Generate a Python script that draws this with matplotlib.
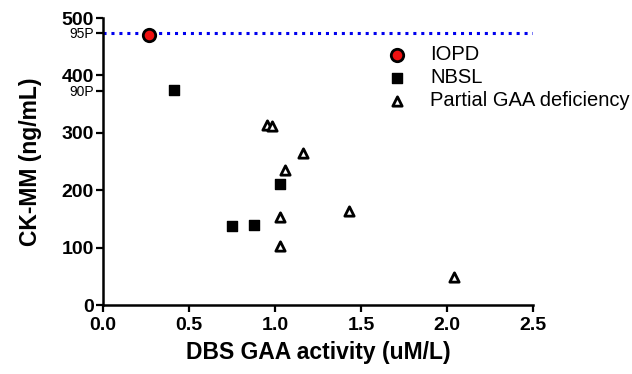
import matplotlib
matplotlib.use("Agg")
import matplotlib.pyplot as plt

plt.rcParams['font.family'] = ['Liberation Sans', 'DejaVu Sans']

# data
iopd_x = [0.27]
iopd_y = [470]
nbsl_x = [0.41, 0.75, 0.875, 1.03]
nbsl_y = [375, 138, 140, 211]
partial_x = [0.955, 0.985, 1.06, 1.16, 1.03, 1.03, 1.43, 2.04]
partial_y = [314, 311, 235, 265, 153, 103, 163, 49]

y_ticks = [0, 100, 200, 300, 400, 500]
x_ticks = [0.0, 0.5, 1.0, 1.5, 2.0, 2.5]
pct_values = [373, 474]
pct_labels = ['90P', '95P']

fig = plt.figure(figsize=(6.32, 3.74), dpi=100)
ax = fig.add_axes([103 / 632, 1 - 305 / 374, 430 / 632, 287 / 374])

# 95th percentile reference line
ax.axhline(474, color='#0000ee', lw=2.2, linestyle=(0, (1, 1.6)), zorder=1)

ax.scatter(iopd_x, iopd_y, s=80, c='#ee1111', edgecolors='black', linewidths=2,
           marker='o', label='IOPD', zorder=3, clip_on=False)
ax.scatter(nbsl_x, nbsl_y, s=45, c='black', marker='s', label='NBSL', zorder=3,
           clip_on=False)
ax.scatter(partial_x, partial_y, s=45, c='white', edgecolors='black', linewidths=2,
           marker='^', label='Partial GAA deficiency', zorder=3, clip_on=False)

ax.set_xlim(0, 2.5)
ax.set_ylim(0, 500)
ax.set_xticks(x_ticks)
ax.set_xticklabels([f'{v:.1f}' for v in x_ticks])
ax.set_yticks(y_ticks)
ax.set_yticks(pct_values, minor=True)
ax.set_yticklabels(pct_labels, minor=True, fontsize=10)

for lbl in ax.get_xticklabels() + ax.get_yticklabels():
    lbl.set_fontweight('bold')
    lbl.set_fontsize(14)

ax.tick_params(axis='both', which='both', direction='out', length=5, width=1.6, pad=1.5)
ax.tick_params(axis='x', pad=4)

for side in ['top', 'right']:
    ax.spines[side].set_visible(False)
for side in ['left', 'bottom']:
    ax.spines[side].set_linewidth(1.8)

ax.set_xlabel('DBS GAA activity (uM/L)', fontsize=16.5, fontweight='bold', labelpad=5)
ax.set_ylabel('CK-MM (ng/mL)', fontsize=16.5, fontweight='bold', labelpad=14)

ax.legend(loc='upper left', bbox_to_anchor=(387 / 632, 1 - 45 / 374),
          bbox_transform=fig.transFigure, frameon=False, fontsize=14.5,
          borderpad=0, borderaxespad=0, handlelength=1.0, handletextpad=1.15,
          labelspacing=0.2, scatterpoints=1)

fig.savefig('out.png', dpi=100)
